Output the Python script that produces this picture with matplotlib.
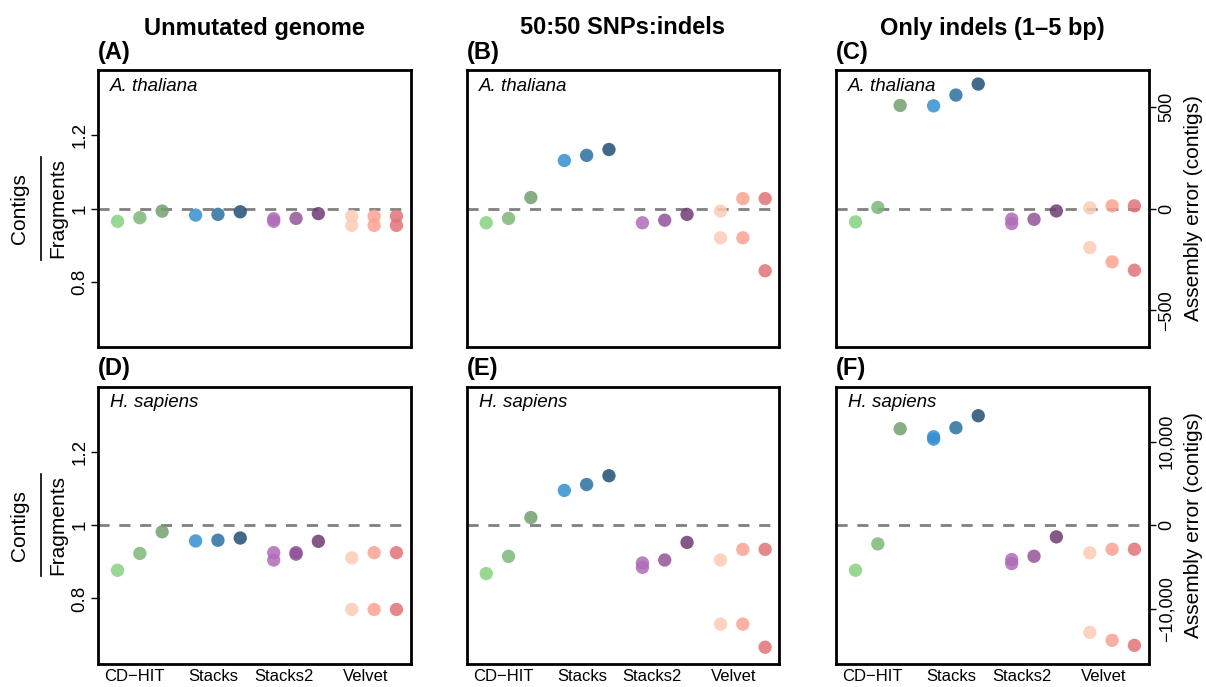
import matplotlib
matplotlib.use("Agg")
import matplotlib.pyplot as plt
from matplotlib.lines import Line2D
from matplotlib.ticker import FuncFormatter
import matplotlib.transforms as mtransforms

plt.rcParams['font.family'] = ['Liberation Sans', 'DejaVu Sans']

# x positions of the 12 runs (3 settings per tool)
x_pos = [1, 2, 3, 4.5, 5.5, 6.5, 8, 9, 10, 11.5, 12.5, 13.5]
tools = ["CD\u2212HIT", "Stacks", "Stacks2", "Velvet"]
tool_pos = [1.75, 5.3, 8.45, 12.1]
colors = ["#86d27f", "#7db87a", "#73a070",
          "#3490d0", "#2a70a2", "#224f75",
          "#b06bb8", "#935499", "#6f3c72",
          "#fccbb7", "#fba391", "#e07378"]

col_titles = ["Unmutated genome", "50:50 SNPs:indels", "Only indels (1\u20135 bp)"]
species = ["A. thaliana", "H. sapiens"]

# contigs / fragments (A, B, D, E) and assembly error in contigs (C, F)
A_main = [0.965, 0.975, 0.993, 0.982, 0.984, 0.991, 0.965, 0.973, 0.986, 0.979, 0.979, 0.979]
A_alt = [None, None, None, None, None, None, 0.972, None, None, 0.954, 0.954, 0.954]
B_main = [0.961, 0.973, 1.030, 1.131, 1.145, 1.161, 0.961, 0.968, 0.984, 0.993, 1.027, 1.027]
B_alt = [None, None, None, None, None, None, None, None, None, 0.920, 0.920, 0.830]
C_main = [-66, 5, 506, 504, 557, 611, -74, -53, -12, 3, 13, 13]
C_alt = [None, None, None, None, None, None, -52, None, None, -192, -262, -303]
D_main = [0.877, 0.923, 0.982, 0.957, 0.959, 0.965, 0.925, 0.921, 0.956, 0.911, 0.925, 0.925]
D_alt = [None, None, None, None, None, None, 0.905, 0.925, None, 0.770, 0.770, 0.770]
E_main = [0.868, 0.915, 1.021, 1.095, 1.111, 1.135, 0.885, 0.905, 0.953, 0.905, 0.934, 0.934]
E_alt = [None, None, None, None, None, None, 0.897, None, None, 0.730, 0.730, 0.667]
F_main = [-5400, -2240, 11560, 10320, 11680, 13120, -4600, -3720, -1400, -3320, -2880, -2880]
F_alt = [None, None, None, 10600, None, None, -4120, None, None, -12840, -13800, -14400]

panels = [("A", A_main, A_alt), ("B", B_main, B_alt), ("C", C_main, C_alt),
          ("D", D_main, D_alt), ("E", E_main, E_alt), ("F", F_main, F_alt)]

fig = plt.figure(figsize=(12.06, 6.87), dpi=100)

lefts = [98, 466.7, 836]
tops = [70, 386.7]
W, H = 312.5, 277
FW, FH = 1206, 687


def fmt_err(v, pos):
    s = f"{int(round(v)):,}"
    return s.replace("-", "\u2212")


for i, (lab, main, alt) in enumerate(panels):
    r, c = divmod(i, 3)
    ax = fig.add_axes([lefts[c] / FW, 1 - (tops[r] + H) / FH, W / FW, H / FH])
    for sp in ax.spines.values():
        sp.set_linewidth(2)
    ax.set_xlim(0.125, 14.13)
    ref = 0 if c == 2 else 1
    ax.axhline(ref, color="#808080", lw=2, ls=(0, (4, 3.5)), zorder=1)
    ax.scatter(x_pos, main, s=92, c=colors, alpha=0.85, linewidths=0, zorder=3)
    # second measurement where there is one
    ax2x = [x for x, v in zip(x_pos, alt) if v is not None]
    ax2y = [v for v in alt if v is not None]
    ax2c = [col for col, v in zip(colors, alt) if v is not None]
    ax.scatter(ax2x, ax2y, s=92, c=ax2c, alpha=0.85, linewidths=0, zorder=3)

    if c == 2:
        lim = 680 if r == 0 else 16600
        ax.set_ylim(-lim, lim)
        step = 500 if r == 0 else 10000
        ax.yaxis.tick_right()
        ax.set_yticks([-step, 0, step])
        ax.yaxis.set_major_formatter(FuncFormatter(fmt_err))
        ax.tick_params(axis="y", right=True, left=False, length=5, width=1, pad=2,
                       labelsize=13)
        for t in ax.get_yticklabels():
            t.set_rotation(90)
            t.set_va("center")
        ax.yaxis.set_label_position("right")
        ax.set_ylabel("Assembly error (contigs)", fontsize=15, labelpad=6)
    else:
        ax.set_ylim(0.622, 1.378)
        if c == 0:
            ax.set_yticks([0.8, 1, 1.2], ["0.8", "1", "1.2"])
            ax.tick_params(axis="y", length=5, width=1, pad=2, labelsize=13.5)
            for t in ax.get_yticklabels():
                t.set_rotation(90)
                t.set_va("center")
        else:
            ax.set_yticks([])

    if r == 1:
        ax.set_xticks(tool_pos, tools)
        ax.tick_params(axis="x", length=0, pad=4, labelsize=12)
    else:
        ax.set_xticks([])

    ax.text(0.038, 0.942, species[r], transform=ax.transAxes, fontsize=13.5,
            style="italic", ha="left", va="center")
    ax.text(0, 1 + 18 / H, f"({lab})", transform=ax.transAxes, fontsize=17,
            fontweight="bold", ha="left", va="center")
    if r == 0:
        ax.text(0.5, 1 + 42 / H, col_titles[c], transform=ax.transAxes, fontsize=17,
                fontweight="bold", ha="center", va="center")

    if c == 0:
        tr = mtransforms.blended_transform_factory(fig.transFigure, ax.transData)
        fig.text(20 / FW, 1.0, "Contigs", transform=tr, rotation=90, fontsize=15,
                 ha="center", va="center")
        fig.text(58 / FW, 1.0, "Fragments", transform=tr, rotation=90, fontsize=15,
                 ha="center", va="center")
        fig.add_artist(Line2D([40.5 / FW, 40.5 / FW], [0.86, 1.14], transform=tr,
                              color="black", lw=1.2))

fig.savefig("out.png", dpi=100)
